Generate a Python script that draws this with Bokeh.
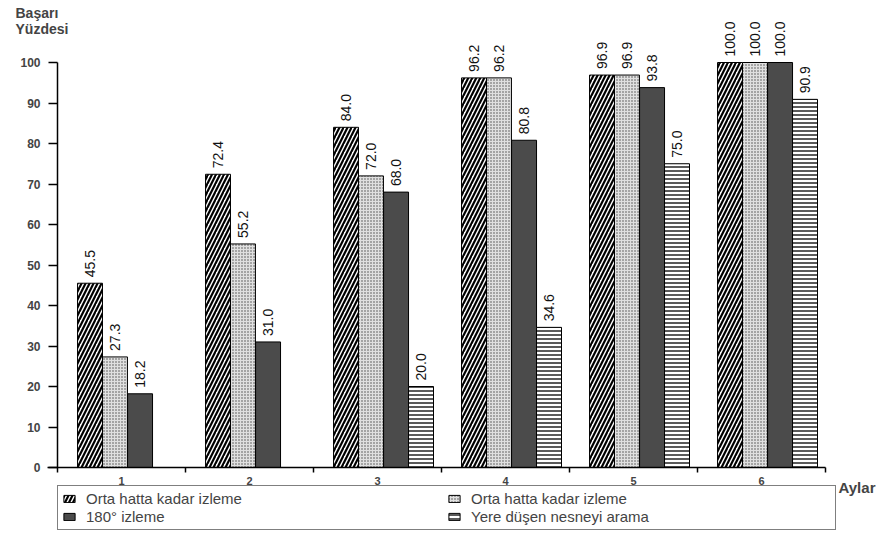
import math

from bokeh.core.properties import value
from bokeh.embed import file_html
from bokeh.models import (ColumnDataSource, FixedTicker, Label, Legend,
                          LegendItem, Range1d)
from bokeh.plotting import figure
from bokeh.resources import INLINE

# --- data -------------------------------------------------------------------
months = ["1", "2", "3", "4", "5", "6"]
y_ticks = [0, 10, 20, 30, 40, 50, 60, 70, 80, 90, 100]

mid_line_a = [45.5, 72.4, 84.0, 96.2, 96.9, 100.0]
mid_line_b = [27.3, 55.2, 72.0, 96.2, 96.9, 100.0]
turn_180 = [18.2, 31.0, 68.0, 80.8, 93.8, 100.0]
fallen_obj = [None, None, 20.0, 34.6, 75.0, 90.9]

series_names = [
    "Orta hatta kadar izleme",
    "Orta hatta kadar izleme",
    "180° izleme",
    "Yere düşen nesneyi arama",
]
series_values = [mid_line_a, mid_line_b, turn_180, fallen_obj]

# --- styles -----------------------------------------------------------------
FONT = value("Liberation Sans")
bar_width = 0.195
offsets = [-0.246, -0.051, 0.145, 0.340]
bar_styles = [
    dict(fill_color="white", hatch_pattern="/", hatch_color="black",
         hatch_scale=8, hatch_weight=2.2),
    dict(fill_color="#e0e0e0", hatch_pattern=".", hatch_color="#4a4a4a",
         hatch_scale=3, hatch_weight=1),
    dict(fill_color="#4b4b4b"),
    dict(fill_color="white", hatch_pattern="-", hatch_color="black",
         hatch_scale=4, hatch_weight=1.3),
]

# The frame fills the whole canvas; the axes are pinned at x=0.5 / y=0 so the
# titles and the legend around them can sit inside the frame.
W, H = 889, 539
X0_PX, PX_PER_MONTH = 57, 128.0
Y0_PX, PX_PER_PCT = 467, 4.05
x_start = 0.5 - X0_PX / PX_PER_MONTH
x_end = 0.5 + (W - X0_PX) / PX_PER_MONTH
y_end = Y0_PX / PX_PER_PCT
y_start = -(H - Y0_PX) / PX_PER_PCT

p = figure(
    width=W, height=H,
    x_range=Range1d(x_start, x_end), y_range=Range1d(y_start, y_end),
    output_backend="svg", toolbar_location=None,
    min_border=0,
)
p.outline_line_color = None
p.xgrid.grid_line_color = None
p.ygrid.grid_line_color = None
p.background_fill_color = "white"

bar_renderers = []
for k, (vals, style) in enumerate(zip(series_values, bar_styles)):
    xs, tops, texts = [], [], []
    for i, v in enumerate(vals):
        if v is None:
            continue
        xs.append(i + 1 + offsets[k])
        tops.append(v)
        texts.append(f"{v:.1f}")
    src = ColumnDataSource(dict(x=xs, top=tops, text=texts))
    r = p.vbar(x="x", top="top", bottom=0, width=bar_width, source=src,
               line_color="black", line_width=1, **style)
    p.text(x="x", y="top", text="text", source=src, angle=math.pi / 2,
           text_align="left", text_baseline="middle", y_offset=-6,
           text_font=FONT, text_font_size="14px", text_color="#111111")
    bar_renderers.append(r)

# --- axes -------------------------------------------------------------------
xa = p.xaxis[0]
xa.fixed_location = 0
xa.bounds = (0.5 - 10 / PX_PER_MONTH, 6.5)
xa.ticker = FixedTicker(ticks=list(range(1, 7)),
                        minor_ticks=[0.5 + i for i in range(7)])
xa.major_label_overrides = {i + 1: m for i, m in enumerate(months)}
xa.major_tick_out = 0
xa.major_tick_in = 0
xa.minor_tick_out = 5
xa.minor_tick_in = 0
xa.minor_tick_line_width = 1.5
xa.axis_line_width = 1.5
xa.major_label_standoff = 4
xa.major_label_text_font = "Liberation Sans"
xa.major_label_text_font_style = "bold"
xa.major_label_text_font_size = "11px"

ya = p.yaxis[0]
ya.fixed_location = 0.5
ya.bounds = (0, 100)
ya.ticker = FixedTicker(ticks=y_ticks, minor_ticks=[])
ya.major_tick_out = 9
ya.major_tick_in = 0
ya.major_tick_line_width = 1.5
ya.axis_line_width = 1.5
ya.major_label_standoff = 8
ya.major_label_text_font = "Liberation Sans"
ya.major_label_text_font_style = "bold"
ya.major_label_text_font_size = "12px"

# axis titles
title_x = x_start + 15 / PX_PER_MONTH
for txt, py in (("Başarı", 12), ("Yüzdesi", 28)):
    p.add_layout(Label(x=title_x, y=(Y0_PX - py) / PX_PER_PCT, text=txt,
                       text_font="Liberation Sans", text_font_style="bold",
                       text_font_size="14px", text_baseline="middle",
                       text_align="left"))
p.add_layout(Label(x=6.5 + 13 / PX_PER_MONTH, y=-20 / PX_PER_PCT, text="Aylar",
                   text_font="Liberation Sans", text_font_style="bold",
                   text_font_size="15px", text_baseline="middle",
                   text_align="left"))

# --- legend: boxed, two columns, under the axis ------------------------------
order = [0, 2, 1, 3]  # column-wise fill -> rows read across
legend = Legend(
    items=[LegendItem(label=series_names[k], renderers=[bar_renderers[k]])
           for k in order],
    ncols=2, location=(X0_PX, 9),
    margin=0, padding=4, spacing=1,
    glyph_width=14, glyph_height=9, label_standoff=10,
    label_width=360, label_height=15,
    label_text_font="Liberation Sans", label_text_font_size="15px",
    border_line_color="black", border_line_width=1.5,
    background_fill_alpha=1,
)
p.add_layout(legend, "center")

open("out.html", "w").write(file_html(p, INLINE))
